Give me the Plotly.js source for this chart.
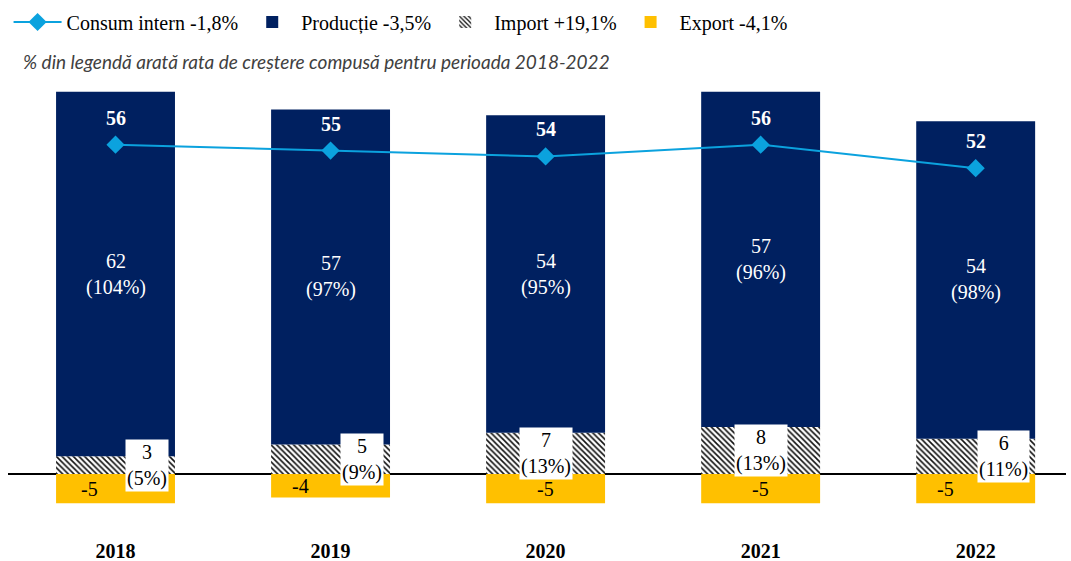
<!DOCTYPE html>
<html>
<head>
<meta charset="utf-8">
<script src="https://cdn.plot.ly/plotly-3.0.1.min.js"></script>
<style>
  html, body { margin: 0; padding: 0; background: white; }
  #chart { width: 1071px; height: 561px; }
</style>
</head>
<body>
<div id="chart"></div>
<script>
// Data
const years = ['2018', '2019', '2020', '2021', '2022'];
const consum = [56, 55, 54, 56, 52];
const productie = [62, 57, 54, 57, 54];
const productiePct = ['104%', '97%', '95%', '96%', '98%'];
const importVal = [3, 5, 7, 8, 6];
const importPct = ['5%', '9%', '13%', '13%', '11%'];
const exportVal = [-5, -4, -5, -5, -5];

const serif = 'Liberation Serif, Times New Roman, serif';

// small horizontal nudges for the import / export labels (pixels)
const importDx = [31, 31, 0, 0, 28];
const exportDx = [-26, -30, 0, 0, -30];

var traceImport = {
  x: years,
  y: importVal,
  type: 'bar',
  name: 'Import +19,1%',
  legendrank: 3,
  marker: {
    color: 'white',
    pattern: { shape: '\\', fgcolor: '#111111', bgcolor: 'white', size: 4, solidity: 0.4 },
    line: { width: 0 }
  },
  hoverinfo: 'none'
};

var traceProd = {
  x: years,
  y: productie,
  type: 'bar',
  name: 'Producție -3,5%',
  legendrank: 2,
  marker: { color: '#002060', line: { width: 0 } },
  hoverinfo: 'none'
};

var traceExport = {
  x: years,
  y: exportVal,
  type: 'bar',
  name: 'Export -4,1%',
  legendrank: 4,
  marker: { color: '#FFC000', line: { width: 0 } },
  hoverinfo: 'none'
};

var traceConsum = {
  x: years,
  y: consum,
  type: 'scatter',
  mode: 'lines+markers',
  name: 'Consum intern -1,8%',
  legendrank: 1,
  line: { color: '#0BA2DE', width: 2 },
  marker: { symbol: 'diamond', size: 14, color: '#0BA2DE' },
  hoverinfo: 'none'
};

var annotations = [];
for (let i = 0; i < years.length; i++) {
  // consumption value above the marker
  annotations.push({
    x: i, y: consum[i], yshift: 27,
    text: '<b>' + consum[i] + '</b>',
    showarrow: false,
    font: { family: serif, size: 20, color: 'white' }
  });
  // production value in the middle of its segment
  annotations.push({
    x: i, y: importVal[i] + productie[i] / 2,
    text: productie[i] + '<br>(' + productiePct[i] + ')',
    showarrow: false,
    font: { family: serif, size: 20, color: 'white' }
  });
  // import value in a white box
  annotations.push({
    x: i, y: importVal[i] / 2, xshift: importDx[i],
    text: importVal[i] + '<br>(' + importPct[i] + ')',
    showarrow: false,
    bgcolor: 'white',
    borderpad: 1,
    font: { family: serif, size: 20, color: 'black' }
  });
  // export value
  annotations.push({
    x: i, y: exportVal[i] / 2, xshift: exportDx[i],
    text: String(exportVal[i]),
    showarrow: false,
    font: { family: serif, size: 20, color: 'black' }
  });
}

// subtitle note
annotations.push({
  xref: 'paper', yref: 'paper',
  x: 0, y: 1 + 19 / 441,
  xanchor: 'left', yanchor: 'middle', xshift: 13,
  text: '<i>% din legendă arată rata de creștere compusă pentru perioada 2018-2022</i>',
  showarrow: false,
  font: { family: 'Lato, Open Sans, sans-serif', size: 19, color: '#404040' }
});

var layout = {
  width: 1071,
  height: 561,
  margin: { l: 8, r: 5, t: 80, b: 40 },
  plot_bgcolor: 'white',
  paper_bgcolor: 'white',
  barmode: 'relative',
  bargap: 0.447,
  showlegend: true,
  legend: {
    orientation: 'h',
    xref: 'container', yref: 'container',
    x: 0.008, y: 1 - 22 / 561,
    xanchor: 'left', yanchor: 'middle',
    font: { family: serif, size: 20, color: 'black' },
    traceorder: 'normal',
    itemwidth: 48
  },
  xaxis: {
    type: 'category',
    range: [-0.5, 4.42],
    showgrid: false,
    showline: false,
    zeroline: false,
    ticks: '',
    ticklabelstandoff: 16,
    tickfont: { family: serif, size: 20, color: 'black', weight: 'bold' }
  },
  yaxis: {
    range: [-8, 67],
    showgrid: false,
    showticklabels: false,
    zeroline: true,
    zerolinecolor: 'black',
    zerolinewidth: 2,
    ticks: ''
  },
  annotations: annotations
};

Plotly.newPlot('chart', [traceImport, traceProd, traceExport, traceConsum], layout, { displayModeBar: false, staticPlot: true });
</script>
</body>
</html>
